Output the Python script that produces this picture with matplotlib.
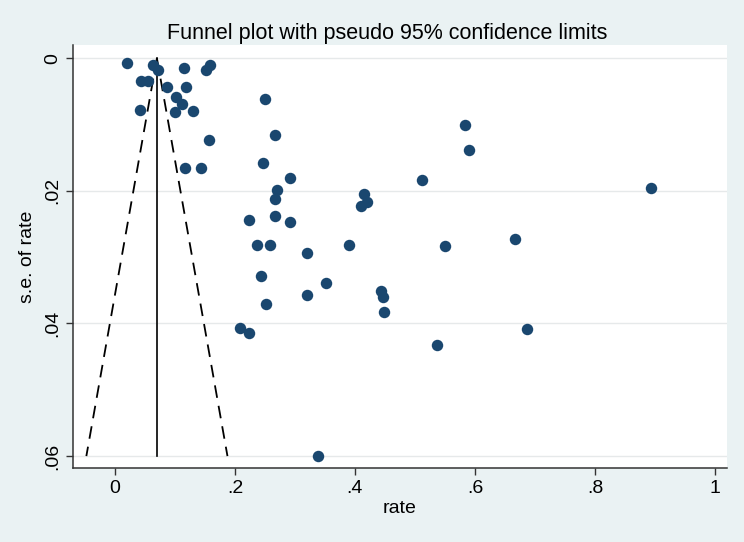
import matplotlib
matplotlib.use("Agg")
import matplotlib.pyplot as plt
import numpy as np

# study estimates
rate = [0.020, 0.064, 0.071, 0.115, 0.158, 0.1525, 0.044, 0.055, 0.087, 0.119,
        0.101, 0.1125, 0.0425, 0.100, 0.130, 0.250, 0.156, 0.2675, 0.1175, 0.144,
        0.246, 0.291, 0.270, 0.267, 0.2237, 0.2675, 0.291, 0.237, 0.259, 0.320,
        0.390, 0.244, 0.415, 0.420, 0.410, 0.512, 0.584, 0.591, 0.550, 0.352,
        0.320, 0.2525, 0.444, 0.446, 0.449, 0.208, 0.224, 0.5375, 0.338, 0.894,
        0.667, 0.6875]
se = [0.00065, 0.00095, 0.0018, 0.00146, 0.00106, 0.00176, 0.0034, 0.0034, 0.0044, 0.0044,
      0.0059, 0.0069, 0.0078, 0.0081, 0.0079, 0.0061, 0.0124, 0.0116, 0.0165, 0.0165,
      0.0158, 0.0180, 0.0198, 0.0212, 0.0244, 0.0238, 0.0247, 0.0282, 0.0281, 0.0294,
      0.0281, 0.0328, 0.0204, 0.0217, 0.0223, 0.0183, 0.0101, 0.0138, 0.0283, 0.0339,
      0.0357, 0.0370, 0.0351, 0.0360, 0.0382, 0.0407, 0.0414, 0.0433, 0.0600, 0.0196,
      0.0272, 0.0409]
pooled = 0.07
se_max = 0.06

xticks = [0, 0.2, 0.4, 0.6, 0.8, 1.0]
xticklabels = ["0", ".2", ".4", ".6", ".8", "1"]
yticks = [0, 0.02, 0.04, 0.06]
yticklabels = ["0", ".02", ".04", ".06"]

plt.rcParams['font.family'] = ['Liberation Sans', 'DejaVu Sans']

bg = '#eaf2f3'
fig = plt.figure(figsize=(7.44, 5.42), dpi=100, facecolor=bg)
ax = fig.add_axes([0.098, 0.1365, 0.879, 0.7805])
ax.set_facecolor('white')

# pseudo 95% limits
s = np.array([0, se_max])
ax.plot(pooled - 1.96 * s, s, color='black', lw=1.3, ls=(0, (7, 4.5)))
ax.plot(pooled + 1.96 * s, s, color='black', lw=1.3, ls=(0, (7, 4.5)))
ax.plot([pooled, pooled], s, color='black', lw=1.2)

ax.scatter(rate, se, s=68, color='#1a476f', zorder=3, linewidths=0)

ax.set_xlim(-0.07, 1.02)
ax.set_ylim(0.0618, -0.002)
ax.set_xticks(xticks)
ax.set_xticklabels(xticklabels, fontsize=14)
ax.set_yticks(yticks)
ax.set_yticklabels(yticklabels, fontsize=14, rotation=90, va='center')
ax.grid(axis='y', color='#e6e9ea', lw=1)
ax.set_axisbelow(True)
ax.tick_params(direction='out', length=5, width=1, color='#333333')

for side in ['top', 'right']:
    ax.spines[side].set_visible(False)
for side in ['left', 'bottom']:
    ax.spines[side].set_color('#333333')
    ax.spines[side].set_linewidth(1.1)

ax.set_xlabel('rate', fontsize=14, labelpad=2)
ax.set_ylabel('s.e. of rate', fontsize=14, labelpad=6)
ax.set_title('Funnel plot with pseudo 95% confidence limits', fontsize=15.5, pad=4, x=0.48)

plt.savefig('out.png', dpi=100, facecolor=bg)
